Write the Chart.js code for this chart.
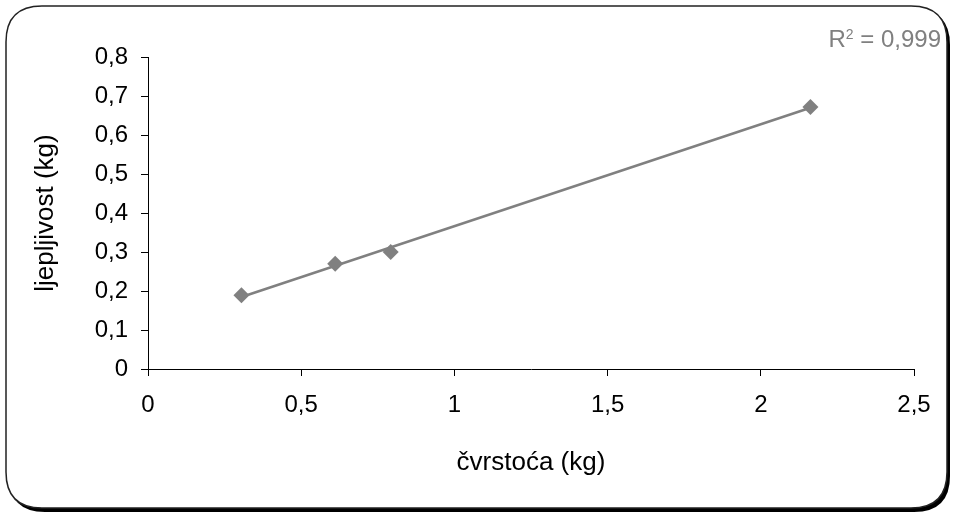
<!DOCTYPE html>
<html>
<head>
<meta charset="utf-8">
<script src="https://cdn.jsdelivr.net/npm/chart.js@4"></script>
<style>
    html, body { margin: 0; padding: 0; background: #fff; }
    #wrap { width: 954px; height: 515px; position: relative; }
</style>
</head>
<body>
<div id="wrap"><canvas id="chart"></canvas></div>
<script>
// values
const hardness = [0.305, 0.611, 0.792, 2.162];      // čvrstoća (kg)
const adhesiveness = [0.189, 0.270, 0.300, 0.672];  // ljepljivost (kg)
const rSquaredText = '0,999';

const xTicks = { min: 0, max: 2.5, step: 0.5 };
const yTicks = { min: 0, max: 0.8, step: 0.1 };

// linear trendline (least squares), drawn between first and last point
function linearFit(xs, ys) {
    const n = xs.length;
    const mx = xs.reduce((a, b) => a + b, 0) / n;
    const my = ys.reduce((a, b) => a + b, 0) / n;
    let sxy = 0, sxx = 0;
    for (let i = 0; i < n; i++) {
        sxy += (xs[i] - mx) * (ys[i] - my);
        sxx += (xs[i] - mx) * (xs[i] - mx);
    }
    const slope = sxy / sxx;
    return { slope, intercept: my - slope * mx };
}

const fit = linearFit(hardness, adhesiveness);
const xStart = Math.min(...hardness);
const xEnd = Math.max(...hardness);
const trendPoints = [
    { x: xStart, y: fit.intercept + fit.slope * xStart },
    { x: xEnd, y: fit.intercept + fit.slope * xEnd },
];
const points = hardness.map((x, i) => ({ x, y: adhesiveness[i] }));

const comma = v => String(Math.round(v * 10) / 10).replace('.', ',');
const fontFamily = '"Liberation Sans", Arial, sans-serif';

// rounded frame with the dark shadow and R² label
const framePlugin = {
    id: 'frame',
    beforeDraw(chart) {
        const ctx = chart.ctx;
        const roundRect = (x, y, w, h, r) => {
            ctx.beginPath();
            ctx.moveTo(x + r, y);
            ctx.lineTo(x + w - r, y);
            ctx.quadraticCurveTo(x + w, y, x + w, y + r);
            ctx.lineTo(x + w, y + h - r);
            ctx.quadraticCurveTo(x + w, y + h, x + w - r, y + h);
            ctx.lineTo(x + r, y + h);
            ctx.quadraticCurveTo(x, y + h, x, y + h - r);
            ctx.lineTo(x, y + r);
            ctx.quadraticCurveTo(x, y, x + r, y);
            ctx.closePath();
        };
        ctx.save();
        ctx.fillStyle = '#fff';
        ctx.fillRect(0, 0, chart.width, chart.height);
        roundRect(9, 9, 941, 503, 36);
        ctx.fillStyle = '#000';
        ctx.fill();
        roundRect(6, 6, 941, 502, 36);
        ctx.fillStyle = '#fff';
        ctx.fill();
        ctx.lineWidth = 1.5;
        ctx.strokeStyle = '#222';
        ctx.stroke();
        ctx.restore();
    },
    afterDraw(chart) {
        const ctx = chart.ctx;
        ctx.save();
        ctx.fillStyle = '#808080';
        ctx.textBaseline = 'alphabetic';
        ctx.textAlign = 'right';
        const right = 941;
        const base = 47;
        ctx.font = '24px ' + fontFamily;
        const rest = ' = ' + rSquaredText;
        const restW = ctx.measureText(rest).width;
        ctx.fillText(rest, right, base);
        ctx.font = '14px ' + fontFamily;
        const supW = ctx.measureText('2').width;
        ctx.fillText('2', right - restW, base - 8);
        ctx.font = '24px ' + fontFamily;
        ctx.fillText('R', right - restW - supW, base);
        ctx.restore();
    },
};

const tickFont = { family: fontFamily, size: 24 };
const titleFont = { family: fontFamily, size: 26 };

new Chart(document.getElementById('chart'), {
    type: 'scatter',
    data: {
        datasets: [
            {
                label: 'points',
                data: points,
                pointStyle: 'rectRot',
                pointRadius: 8,
                pointHoverRadius: 8,
                backgroundColor: '#808080',
                borderColor: '#808080',
                borderWidth: 0,
                order: 0,
            },
            {
                label: 'trend',
                data: trendPoints,
                showLine: true,
                pointRadius: 0,
                borderColor: '#808080',
                borderWidth: 2.5,
                order: 1,
            },
        ],
    },
    options: {
        responsive: true,
        maintainAspectRatio: false,
        animation: false,
        layout: { padding: { left: 10, right: 40, top: 57, bottom: 10 } },
        plugins: {
            legend: { display: false },
            tooltip: { enabled: false },
        },
        scales: {
            x: {
                type: 'linear',
                min: xTicks.min,
                max: xTicks.max,
                afterFit: scale => { scale.height = 515 - 369 - 10; },
                ticks: {
                    stepSize: xTicks.step,
                    callback: comma,
                    color: '#000',
                    font: tickFont,
                    padding: 15,
                    maxRotation: 0,
                },
                grid: { drawOnChartArea: false, drawTicks: true, tickLength: 7, color: '#000' },
                border: { color: '#000', width: 1 },
                title: {
                    display: true,
                    text: 'čvrstoća (kg)',
                    color: '#000',
                    font: titleFont,
                    padding: { top: 0, bottom: 27 },
                },
            },
            y: {
                type: 'linear',
                min: yTicks.min,
                max: yTicks.max,
                afterFit: scale => { scale.width = 148 - 10; },
                ticks: {
                    stepSize: yTicks.step,
                    callback: comma,
                    color: '#000',
                    font: tickFont,
                    padding: 13,
                },
                grid: { drawOnChartArea: false, drawTicks: true, tickLength: 7, color: '#000' },
                border: { color: '#000', width: 1 },
                title: {
                    display: true,
                    text: 'ljepljivost (kg)',
                    color: '#000',
                    font: titleFont,
                    padding: { top: 20, bottom: 0 },
                },
            },
        },
    },
    plugins: [framePlugin],
});
</script>
</body>
</html>
